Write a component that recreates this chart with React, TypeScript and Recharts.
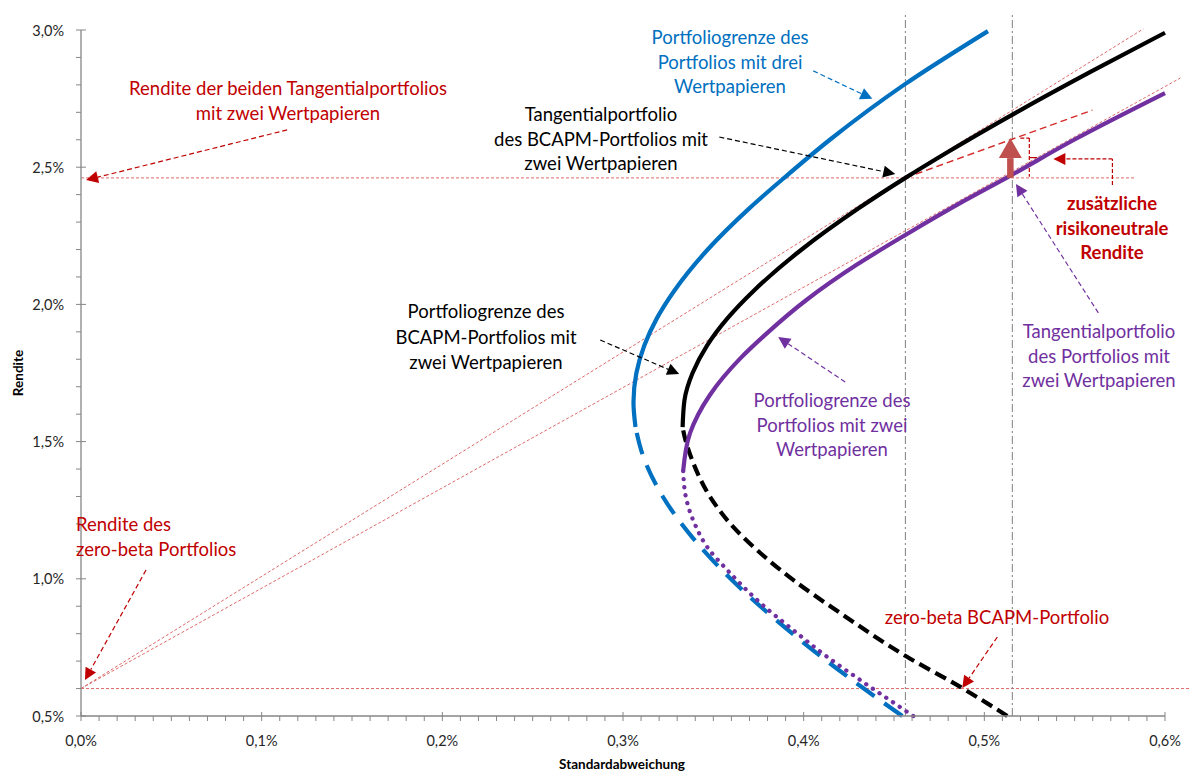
import React from "react";
import { LineChart, Line, XAxis, YAxis, ReferenceLine } from "recharts";

// Werte in Prozent: s = Standardabweichung, r = Rendite
const xMajor = [0, 0.1, 0.2, 0.3, 0.4, 0.5, 0.6];
const yMajor = [0.5, 1.0, 1.5, 2.0, 2.5, 3.0];
const xTicks = Array.from({ length: 61 }, (_, i) => i / 100);
const yTicks = Array.from({ length: 26 }, (_, i) => Math.round(50 + i * 10) / 100);

// Portfoliogrenze mit drei Wertpapieren (blau)
const blueEfficient = [
  { s: 0.3069, r: 1.553 }, { s: 0.3058, r: 1.643 }, { s: 0.3074, r: 1.75 },
  { s: 0.3118, r: 1.85 }, { s: 0.3188, r: 1.95 }, { s: 0.3284, r: 2.05 },
  { s: 0.3469, r: 2.2 }, { s: 0.3699, r: 2.35 }, { s: 0.3897, r: 2.464 },
  { s: 0.4145, r: 2.6 }, { s: 0.4555, r: 2.8 }, { s: 0.502, r: 2.996 },
];
const blueInefficient = [
  { s: 0.4546, r: 0.5 }, { s: 0.4333, r: 0.6 }, { s: 0.4129, r: 0.7 },
  { s: 0.3847, r: 0.85 }, { s: 0.3596, r: 1.0 }, { s: 0.3385, r: 1.15 },
  { s: 0.322, r: 1.3 }, { s: 0.311, r: 1.45 }, { s: 0.3069, r: 1.553 },
];

// BCAPM-Portfoliogrenze mit zwei Wertpapieren (schwarz)
const blackEfficient = [
  { s: 0.333, r: 1.553 }, { s: 0.334, r: 1.65 }, { s: 0.3385, r: 1.75 },
  { s: 0.3465, r: 1.85 }, { s: 0.3579, r: 1.95 }, { s: 0.3724, r: 2.05 },
  { s: 0.3989, r: 2.2 }, { s: 0.4304, r: 2.35 }, { s: 0.4563, r: 2.461 },
  { s: 0.4784, r: 2.55 }, { s: 0.5178, r: 2.7 }, { s: 0.5595, r: 2.85 },
  { s: 0.6, r: 2.99 },
];
const blackInefficient = [
  { s: 0.5127, r: 0.5 }, { s: 0.4867, r: 0.606 }, { s: 0.4574, r: 0.715 },
  { s: 0.4203, r: 0.875 }, { s: 0.3942, r: 0.996 }, { s: 0.376, r: 1.094 },
  { s: 0.361, r: 1.189 }, { s: 0.3483, r: 1.298 }, { s: 0.3389, r: 1.422 },
  { s: 0.3333, r: 1.542 }, { s: 0.333, r: 1.553 },
];

// Portfoliogrenze mit zwei Wertpapieren (lila)
const purpleEfficient = [
  { s: 0.3333, r: 1.393 }, { s: 0.3371, r: 1.531 }, { s: 0.3481, r: 1.67 },
  { s: 0.3652, r: 1.805 }, { s: 0.3785, r: 1.888 }, { s: 0.4015, r: 2.016 },
  { s: 0.4295, r: 2.145 }, { s: 0.4563, r: 2.253 }, { s: 0.489, r: 2.378 },
  { s: 0.513, r: 2.464 }, { s: 0.5497, r: 2.6 }, { s: 0.6, r: 2.77 },
];
const purpleInefficient = [
  { s: 0.4607, r: 0.5 }, { s: 0.4313, r: 0.631 }, { s: 0.4131, r: 0.715 },
  { s: 0.3942, r: 0.813 }, { s: 0.376, r: 0.912 }, { s: 0.3577, r: 1.032 },
  { s: 0.3466, r: 1.116 }, { s: 0.3395, r: 1.203 }, { s: 0.3348, r: 1.298 },
  { s: 0.3333, r: 1.393 },
];

// Kennwerte
const zeroBetaReturn = 0.6;
const tangentReturn = 2.461;
const tangentBcapm = { s: 0.4563, r: 2.461 };
const tangentTwo = { s: 0.5155, r: 2.461 };

const AXIS = "#868686";
const RED = "#C00000";
const THIN = "#E06A6A";
const BLUE = "#0070C0";
const PURPLE = "#7030A0";
const FONT = "Lato, 'Open Sans', sans-serif";
const CURVE_W = 4.2;

const fmt = (v: number) => `${v.toFixed(1).replace(".", ",")}%`;
const isMajor = (list: number[], v: number) => list.some((m) => Math.abs(m - v) < 1e-6);

const XTick = (p: any) => {
  const { x, y, payload } = p;
  const major = isMajor(xMajor, payload.value);
  return (
    <g>
      <line x1={x} x2={x} y1={major ? y - 4 : y} y2={y + 5} stroke={AXIS} strokeWidth={1} />
      {major && (
        <text x={x} y={y + 24} textAnchor="middle" dominantBaseline="central" fontSize={14.5} fill="#262626" fontFamily={FONT}>
          {fmt(payload.value)}
        </text>
      )}
    </g>
  );
};

const YTick = (p: any) => {
  const { x, y, payload } = p;
  const major = isMajor(yMajor, payload.value);
  return (
    <g>
      <line x1={x - 5} x2={major ? x + 5 : x} y1={y} y2={y} stroke={AXIS} strokeWidth={1} />
      {major && (
        <text x={x - 17} y={y} textAnchor="end" dominantBaseline="central" fontSize={14.5} fill="#262626" fontFamily={FONT}>
          {fmt(payload.value)}
        </text>
      )}
    </g>
  );
};

// gestrichelter Pfeil mit gefüllter Spitze
const arrow = (color: string, dash = "5 3", width = 1.2, head = 12) => (p: any) => {
  const { x1, y1, x2, y2 } = p;
  if ([x1, y1, x2, y2].some((v) => typeof v !== "number" || isNaN(v))) return <g />;
  const a = Math.atan2(y2 - y1, x2 - x1);
  const hx = x2 - head * Math.cos(a);
  const hy = y2 - head * Math.sin(a);
  const w = head * 0.5;
  const px = -Math.sin(a) * w;
  const py = Math.cos(a) * w;
  return (
    <g>
      <line x1={x1} y1={y1} x2={hx} y2={hy} stroke={color} strokeWidth={width} strokeDasharray={dash} />
      <polygon points={`${x2},${y2} ${hx + px},${hy + py} ${hx - px},${hy - py}`} fill={color} />
    </g>
  );
};

const fatArrow = (p: any) => {
  const { x1, y1, x2, y2 } = p;
  if ([x1, y1, x2, y2].some((v) => typeof v !== "number" || isNaN(v))) return <g />;
  const head = 20;
  return (
    <g>
      <line x1={x1} y1={y1} x2={x2} y2={y2 + head} stroke="#C0504D" strokeWidth={6.5} />
      <polygon points={`${x2},${y2} ${x2 - 11.5},${y2 + head} ${x2 + 11.5},${y2 + head}`} fill="#C0504D" />
    </g>
  );
};

type Note = { x: number; y: number; lines: string[]; color: string; left?: boolean; bold?: boolean; gap?: number };
const notes: Note[] = [
  { x: 288, y: 88, lines: ["Rendite der beiden Tangentialportfolios", "mit zwei Wertpapieren"], color: RED },
  { x: 76, y: 524, lines: ["Rendite des", "zero-beta Portfolios"], color: RED, left: true },
  { x: 730, y: 37, lines: ["Portfoliogrenze des", "Portfolios mit drei", "Wertpapieren"], color: BLUE },
  { x: 601, y: 114, lines: ["Tangentialportfolio", "des BCAPM-Portfolios mit", "zwei Wertpapieren"], color: "#000" },
  { x: 486, y: 311, lines: ["Portfoliogrenze des", "BCAPM-Portfolios mit", "zwei Wertpapieren"], color: "#000", gap: 25.5 },
  { x: 832, y: 400, lines: ["Portfoliogrenze des", "Portfolios mit zwei", "Wertpapieren"], color: PURPLE },
  { x: 1099, y: 331, lines: ["Tangentialportfolio", "des Portfolios mit", "zwei Wertpapieren"], color: PURPLE },
  { x: 1112, y: 203, lines: ["zusätzliche", "risikoneutrale", "Rendite"], color: RED, bold: true },
  { x: 997, y: 617, lines: ["zero-beta BCAPM-Portfolio"], color: RED },
];

export default function App() {
  return (
    <div style={{ position: "absolute", left: 0, top: 0, width: 1190, height: 771, background: "#fff", fontFamily: FONT }}>
      <LineChart width={1190} height={771} margin={{ top: 30, right: 25, bottom: 25, left: 21 }}>
        <XAxis
          dataKey="s"
          type="number"
          domain={[0, 0.6]}
          ticks={xTicks}
          interval={0}
          height={30}
          tickSize={0}
          tickMargin={0}
          tickLine={false}
          axisLine={{ stroke: AXIS, strokeWidth: 1.3 }}
          tick={<XTick />}
        />
        <YAxis
          dataKey="r"
          type="number"
          domain={[0.5, 3.0]}
          ticks={yTicks}
          interval={0}
          width={60}
          tickSize={0}
          tickMargin={0}
          tickLine={false}
          axisLine={{ stroke: AXIS, strokeWidth: 1.3 }}
          tick={<YTick />}
        />

        {/* Hilfslinien */}
        <ReferenceLine ifOverflow="visible" segment={[{ x: 0, y: zeroBetaReturn }, { x: 0.614, y: zeroBetaReturn }]} stroke={THIN} strokeWidth={1} strokeDasharray="3 2" />
        <ReferenceLine ifOverflow="visible" segment={[{ x: 0, y: tangentReturn }, { x: 0.5836, y: tangentReturn }]} stroke={THIN} strokeWidth={1} strokeDasharray="3 2" />
        <ReferenceLine ifOverflow="visible" segment={[{ x: 0, y: zeroBetaReturn }, { x: 0.588, y: 3.004 }]} stroke={THIN} strokeWidth={1} strokeDasharray="3 2" />
        <ReferenceLine ifOverflow="visible" segment={[{ x: 0, y: zeroBetaReturn }, { x: 0.6085, y: 2.825 }]} stroke={THIN} strokeWidth={1} strokeDasharray="3 2" />
        <ReferenceLine ifOverflow="visible" segment={[{ x: tangentBcapm.s, y: 0.5 }, { x: tangentBcapm.s, y: 3.066 }]} stroke="#7F7F7F" strokeWidth={1} strokeDasharray="8 3 2 3" />
        <ReferenceLine ifOverflow="visible" segment={[{ x: tangentTwo.s, y: 0.5 }, { x: tangentTwo.s, y: 3.066 }]} stroke="#7F7F7F" strokeWidth={1} strokeDasharray="8 3 2 3" />
        <ReferenceLine ifOverflow="visible" segment={[{ x: tangentBcapm.s, y: tangentBcapm.r }, { x: 0.5598, y: 2.708 }]} stroke="#D42A2A" strokeWidth={1.4} strokeDasharray="7 4" />

        {/* Klammer und Winkelpfeil */}
        <ReferenceLine ifOverflow="visible" segment={[{ x: 0.5199, y: 2.606 }, { x: 0.5249, y: 2.606 }]} stroke={RED} strokeWidth={1.2} strokeDasharray="4 2" />
        <ReferenceLine ifOverflow="visible" segment={[{ x: 0.5249, y: 2.606 }, { x: 0.5249, y: 2.465 }]} stroke={RED} strokeWidth={1.2} strokeDasharray="4 2" />
        <ReferenceLine ifOverflow="visible" segment={[{ x: 0.5249, y: 2.535 }, { x: 0.5293, y: 2.535 }]} stroke={RED} strokeWidth={1.2} />
        <ReferenceLine ifOverflow="visible" segment={[{ x: 0.5709, y: 2.435 }, { x: 0.5709, y: 2.53 }]} stroke={RED} strokeWidth={1.2} strokeDasharray="4 2" />
        <ReferenceLine ifOverflow="visible" segment={[{ x: 0.5709, y: 2.53 }, { x: 0.5382, y: 2.53 }]} stroke={RED} shape={arrow(RED, "4 2", 1.2, 12)} />

        {/* Kurven */}
        <Line data={blueEfficient} dataKey="r" type="monotoneY" stroke={BLUE} strokeWidth={CURVE_W} dot={false} isAnimationActive={false} />
        <Line data={blueInefficient} dataKey="r" type="monotoneY" stroke={BLUE} strokeWidth={CURVE_W} strokeDasharray="22 12" dot={false} isAnimationActive={false} />
        <Line data={purpleInefficient} dataKey="r" type="monotoneY" stroke={PURPLE} strokeWidth={4.3} strokeDasharray="0.1 8" strokeLinecap="round" dot={false} isAnimationActive={false} />
        <Line data={blackEfficient} dataKey="r" type="monotoneY" stroke="#000" strokeWidth={CURVE_W} dot={false} isAnimationActive={false} />
        <Line data={blackInefficient} dataKey="r" type="monotoneY" stroke="#000" strokeWidth={CURVE_W} strokeDasharray="12 6" dot={false} isAnimationActive={false} />
        <Line data={purpleEfficient} dataKey="r" type="monotoneY" stroke={PURPLE} strokeWidth={CURVE_W} dot={false} isAnimationActive={false} />

        {/* zusätzliche risikoneutrale Rendite */}
        <ReferenceLine ifOverflow="visible" segment={[{ x: 0.5144, y: 2.461 }, { x: 0.5144, y: 2.606 }]} stroke="#C0504D" shape={fatArrow} />

        {/* Beschriftungspfeile */}
        <ReferenceLine ifOverflow="visible" segment={[{ x: 0.1141, y: 2.636 }, { x: 0.0028, y: 2.453 }]} stroke={RED} shape={arrow(RED)} />
        <ReferenceLine ifOverflow="visible" segment={[{ x: 0.036, y: 1.032 }, { x: 0.0022, y: 0.631 }]} stroke={RED} shape={arrow(RED)} />
        <ReferenceLine ifOverflow="visible" segment={[{ x: 0.4053, y: 2.851 }, { x: 0.438, y: 2.749 }]} stroke={BLUE} shape={arrow(BLUE)} />
        <ReferenceLine ifOverflow="visible" segment={[{ x: 0.3533, y: 2.61 }, { x: 0.4507, y: 2.475 }]} stroke="#000" shape={arrow("#000")} />
        <ReferenceLine ifOverflow="visible" segment={[{ x: 0.2874, y: 1.87 }, { x: 0.3311, y: 1.746 }]} stroke="#000" shape={arrow("#000")} />
        <ReferenceLine ifOverflow="visible" segment={[{ x: 0.423, y: 1.717 }, { x: 0.3859, y: 1.881 }]} stroke={PURPLE} shape={arrow(PURPLE)} />
        <ReferenceLine ifOverflow="visible" segment={[{ x: 0.5631, y: 1.969 }, { x: 0.5175, y: 2.439 }]} stroke={PURPLE} shape={arrow(PURPLE)} />
        <ReferenceLine ifOverflow="visible" segment={[{ x: 0.5072, y: 0.788 }, { x: 0.4878, y: 0.602 }]} stroke={RED} shape={arrow(RED)} />
      </LineChart>

      {notes.map((n, i) =>
        n.lines.map((t, j) => (
          <div
            key={`${i}-${j}`}
            style={{
              position: "absolute",
              left: n.left ? n.x : n.x - 250,
              width: n.left ? undefined : 500,
              top: n.y + j * (n.gap ?? 24.5) - 12,
              height: 24,
              lineHeight: "24px",
              textAlign: n.left ? "left" : "center",
              whiteSpace: "nowrap",
              fontSize: 18.5,
              fontWeight: n.bold ? 700 : 400,
              color: n.color,
            }}
          >
            {t}
          </div>
        ))
      )}

      <div style={{ position: "absolute", left: 18, top: 373, transform: "translate(-50%, -50%) rotate(-90deg)", fontSize: 13.5, fontWeight: 700, whiteSpace: "nowrap" }}>
        Rendite
      </div>
      <div style={{ position: "absolute", left: 622, top: 764, transform: "translate(-50%, -50%)", fontSize: 13.5, fontWeight: 700, whiteSpace: "nowrap" }}>
        Standardabweichung
      </div>
    </div>
  );
}
